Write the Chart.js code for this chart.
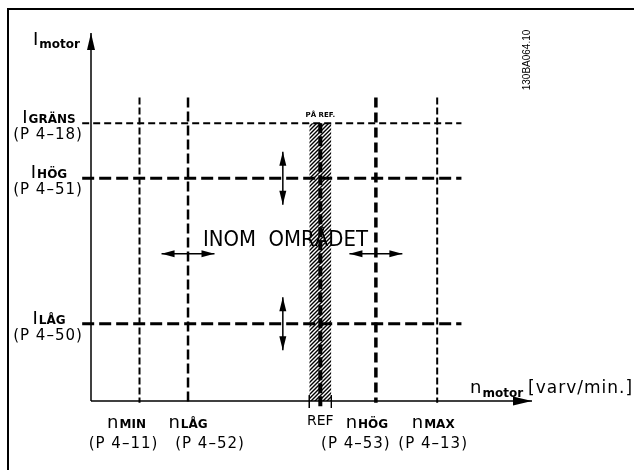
<!DOCTYPE html>
<html>
<head>
<meta charset="utf-8">
<script src="https://cdn.jsdelivr.net/npm/chart.js@4/dist/chart.umd.min.js"></script>
<style>
body { margin: 0; background: #fff; }
#wrap { width: 634px; height: 470px; }
</style>
</head>
<body>
<div id="wrap"><canvas id="diagram" width="634" height="470"></canvas></div>
<script>
// speed markers on the x axis (axis runs 0..100)
const speedNames = ['MIN', 'LÅG', 'REF', 'HÖG', 'MAX']
const speedValues = [11, 22, 52, 64.6, 78.5]
const speedParams = ['(P 4–11)', '(P 4–52)', '', '(P 4–53)', '(P 4–13)']
// current markers on the y axis (axis runs 0..100)
const currentNames = ['GRÄNS', 'HÖG', 'LÅG']
const currentValues = [75.5, 60.5, 21]
const currentParams = ['(P 4–18)', '(P 4–51)', '(P 4–50)']
const refBand = [49.5, 54.5]
const markerTop = 82.5
const markerLeft = -2
const markerRight = 84
const arrowRow = 40
const arrowCol = 43.5
const arrowHalfX = 6
const arrowHalfY = 7.2
const areaText = 'INOM  OMRÅDET'
const areaPos = [44.1, 42.1]
const refText = 'PÅ REF.'
const xTitle = ['n', 'motor', '[varv/min.]']
const yTitle = ['I', 'motor']
const drawingCode = '130BA064.10'

// line looks, same order as the marker arrays
const speedStyles = [[2, [7, 3]], [2.5, [10, 4]], [4, [10, 3]], [3.5, [10, 5]], [2, [7, 3]]]
const currentStyles = [[2, [7, 4]], [3, [12, 5]], [3, [12, 5]]]
// label shifts (px) of name / parameter text from the marker line
const speedNameShift = [-13, 0, 0, -9, -4]
const speedParamShift = [-16, 22, 0, -20, -4]

const seg = (pts, w, dash, extra) => Object.assign({
  data: pts, borderColor: '#000', borderWidth: w, borderDash: dash || [],
  pointRadius: 0, fill: false, clip: false, tension: 0, order: 0
}, extra || {})

// hatch for the reference band
const pc = document.createElement('canvas')
pc.width = 4; pc.height = 4
const pctx = pc.getContext('2d')
pctx.strokeStyle = '#000'; pctx.lineWidth = 1.4
pctx.beginPath()
pctx.moveTo(0, 4); pctx.lineTo(4, 0)
pctx.moveTo(-1, 1); pctx.lineTo(1, -1)
pctx.moveTo(3, 5); pctx.lineTo(5, 3)
pctx.stroke()
const hatch = pctx.createPattern(pc, 'repeat')

const datasets = []
// axes
datasets.push(seg([{x: 0, y: 0}, {x: 0, y: 100}], 1.5, [], {arrow: {len: 17, half: 4}}))
datasets.push(seg([{x: 0, y: 0}, {x: 100, y: 0}], 1.5, [], {arrow: {len: 19, half: 4.5}}))
// current limits
currentValues.forEach((v, i) => {
  datasets.push(seg([{x: markerLeft, y: v}, {x: markerRight, y: v}], currentStyles[i][0], currentStyles[i][1]))
})
// speed limits
speedValues.forEach((v, i) => {
  const isRef = speedNames[i] === 'REF'
  const top = isRef ? currentValues[0] : markerTop
  const bottom = isRef ? -1.9 : -0.5
  datasets.push(seg([{x: v, y: top}, {x: v, y: bottom}], speedStyles[i][0], speedStyles[i][1]))
})
// band edge ticks
refBand.forEach(v => datasets.push(seg([{x: v, y: 1.6}, {x: v, y: -1.9}], 1)))
// band
datasets.push(seg([{x: refBand[0], y: currentValues[0]}, {x: refBand[1], y: currentValues[0]}], 0, [],
  {fill: 'origin', backgroundColor: hatch, order: 10}))
// double arrows
;[speedValues[1], speedValues[3]].forEach(v => {
  datasets.push(seg([{x: v - arrowHalfX, y: arrowRow}, {x: v + arrowHalfX, y: arrowRow}], 1.5, [],
    {arrow: {len: 13, half: 3.5, both: true}}))
})
;[currentValues[1], currentValues[2]].forEach(v => {
  datasets.push(seg([{x: arrowCol, y: v + arrowHalfY}, {x: arrowCol, y: v - arrowHalfY}], 1.5, [],
    {arrow: {len: 14, half: 3.5, both: true}}))
})

const arrowHeads = {
  id: 'arrowHeads',
  afterDatasetsDraw(chart) {
    const ctx = chart.ctx
    chart.data.datasets.forEach((ds, i) => {
      if (!ds.arrow) return
      const pts = chart.getDatasetMeta(i).data
      const a = pts[0], b = pts[pts.length - 1]
      const head = (tip, from) => {
        const ang = Math.atan2(tip.y - from.y, tip.x - from.x)
        ctx.save()
        ctx.translate(tip.x, tip.y); ctx.rotate(ang)
        ctx.beginPath()
        ctx.moveTo(0, 0); ctx.lineTo(-ds.arrow.len, -ds.arrow.half); ctx.lineTo(-ds.arrow.len, ds.arrow.half)
        ctx.closePath(); ctx.fillStyle = '#000'; ctx.fill()
        ctx.restore()
      }
      head(b, a)
      if (ds.arrow.both) head(a, b)
    })
  }
}

const MAIN = '18px "DejaVu Sans"'
const SUB = 'bold 12px "DejaVu Sans"'
const PARAM = '15px "DejaVu Sans"'

function subLabel(ctx, main, sub, x, base, drop, centered) {
  ctx.font = MAIN
  const w1 = ctx.measureText(main).width
  ctx.font = SUB
  const w2 = ctx.measureText(sub).width
  const x0 = centered ? x - (w1 + w2 + 1) / 2 : x
  ctx.textAlign = 'left'
  ctx.font = MAIN; ctx.fillText(main, x0, base)
  ctx.font = SUB; ctx.fillText(sub, x0 + w1 + 1, base + drop)
  return x0 + w1 + 1 + w2
}

const texts = {
  id: 'texts',
  beforeDraw(chart) {
    const ctx = chart.ctx
    ctx.save()
    ctx.fillStyle = '#fff'; ctx.fillRect(0, 0, chart.width, chart.height)
    ctx.strokeStyle = '#000'; ctx.lineWidth = 2
    ctx.beginPath(); ctx.moveTo(8, chart.height); ctx.lineTo(8, 9); ctx.lineTo(chart.width, 9); ctx.stroke()
    ctx.restore()
  },
  afterDraw(chart) {
    const ctx = chart.ctx
    const xs = chart.scales.x, ys = chart.scales.y
    const x0 = xs.getPixelForValue(0), y0 = ys.getPixelForValue(0)
    ctx.save()
    ctx.fillStyle = '#000'
    ctx.textBaseline = 'alphabetic'
    ctx.letterSpacing = '0px'
    // y title
    subLabel(ctx, yTitle[0], yTitle[1], x0 - 58, ys.getPixelForValue(100) + 12, 3, false)
    // x title
    const end = subLabel(ctx, xTitle[0], xTitle[1], xs.getPixelForValue(100) - 62, y0 - 8, 4, false)
    ctx.font = '17px "DejaVu Sans"'; ctx.letterSpacing = '1px'
    ctx.fillText(xTitle[2], end + 5, y0 - 8)
    // current markers
    currentValues.forEach((v, i) => {
      const py = ys.getPixelForValue(v)
      ctx.letterSpacing = '0px'
      subLabel(ctx, 'I', currentNames[i], x0 - 42, py, 0, true)
      ctx.font = PARAM; ctx.letterSpacing = '1px'; ctx.textAlign = 'center'
      ctx.fillText(currentParams[i], x0 - 43, py + 16)
    })
    // speed markers
    speedValues.forEach((v, i) => {
      const px = xs.getPixelForValue(v)
      ctx.letterSpacing = '0px'
      if (speedNames[i] === 'REF') {
        ctx.font = '14px "DejaVu Sans"'; ctx.textAlign = 'center'
        ctx.fillText(speedNames[i], px, y0 + 24)
      } else {
        subLabel(ctx, 'n', speedNames[i], px + speedNameShift[i], y0 + 27, 0, true)
      }
      if (speedParams[i]) {
        ctx.font = PARAM; ctx.letterSpacing = '1px'; ctx.textAlign = 'center'
        ctx.fillText(speedParams[i], px + speedParamShift[i], y0 + 47)
      }
    })
    // band caption
    ctx.letterSpacing = '0px'
    ctx.font = 'bold 7px "DejaVu Sans"'; ctx.textAlign = 'center'
    ctx.fillText(refText, xs.getPixelForValue((refBand[0] + refBand[1]) / 2), ys.getPixelForValue(currentValues[0]) - 6)
    // window caption
    ctx.font = '21px "DejaVu Sans"'
    ctx.fillText(areaText, xs.getPixelForValue(areaPos[0]), ys.getPixelForValue(areaPos[1]), 165)
    // drawing code
    ctx.translate(530, 60); ctx.rotate(-Math.PI / 2)
    ctx.font = '10px "Liberation Sans"'
    ctx.fillText(drawingCode, 0, 0)
    ctx.restore()
  }
}

new Chart(document.getElementById('diagram'), {
  type: 'line',
  data: { datasets },
  options: {
    responsive: false,
    animation: false,
    devicePixelRatio: 1,
    events: [],
    layout: { padding: { left: 91, right: 102, top: 33, bottom: 69 } },
    plugins: { legend: { display: false }, tooltip: { enabled: false } },
    scales: {
      x: { type: 'linear', min: 0, max: 100, display: false },
      y: { type: 'linear', min: 0, max: 100, display: false }
    }
  },
  plugins: [texts, arrowHeads]
})
</script>
</body>
</html>
